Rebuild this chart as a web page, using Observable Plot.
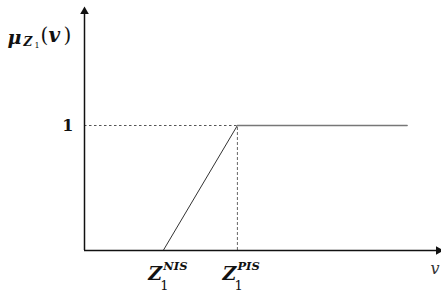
<!DOCTYPE html>
<html>
<head>
<meta charset="utf-8">
<script src="https://cdn.jsdelivr.net/npm/d3@7"></script>
<script src="https://cdn.jsdelivr.net/npm/@observablehq/plot@0.6"></script>
<style>
  html, body { margin: 0; padding: 0; background: #fff; }
  #chart { width: 441px; height: 297px; overflow: hidden; }
</style>
</head>
<body>
<div id="chart"></div>
<script>
// Membership function data (x positions in abstract units, membership values)
const pointNames = ["start", "PIS", "end"];
const xValues = [1.03, 2.0, 4.22];
const membership = [0, 1, 1];
const xMax = 4.67;
const yMax = 1.936;
const yTickValues = [1];
const yTickLabels = ["1"];

const curve = pointNames.map((n, i) => ({name: n, x: xValues[i], y: membership[i]}));
const pis = curve[1];

const serif = "'DejaVu Serif', 'Liberation Serif', serif";

const chart = Plot.plot({
  width: 441,
  height: 297,
  marginLeft: 84,
  marginRight: 0,
  marginTop: 8,
  marginBottom: 47,
  x: {domain: [0, xMax], axis: null},
  y: {domain: [0, yMax], axis: null},
  style: {background: "#fff", overflow: "visible"},
  marks: [
    // dotted guide to y = 1
    Plot.ruleY([pis], {y: "y", x1: 0, x2: "x", stroke: "#555", strokeWidth: 1, strokeDasharray: "2.5,2.5"}),
    // dashed vertical at PIS
    Plot.ruleX([pis], {x: "x", y1: 0, y2: "y", stroke: "#666", strokeWidth: 1, strokeDasharray: "3,2"}),
    // membership curve
    Plot.line(curve.slice(0, 2), {x: "x", y: "y", stroke: "#333", strokeWidth: 1}),
    Plot.line(curve.slice(1), {x: "x", y: "y", stroke: "#777", strokeWidth: 1.5}),
    // axes
    Plot.ruleX([0], {y1: 0, y2: yMax * 0.985, stroke: "#111", strokeWidth: 1.5}),
    Plot.ruleY([0], {x1: 0, x2: xMax, stroke: "#111", strokeWidth: 1.5}),
    Plot.dot([{x: 0, y: yMax}], {x: "x", y: "y", symbol: "triangle", r: 3.2, fill: "#111", stroke: null, dy: 3}),
    Plot.dot([{x: xMax, y: 0}], {x: "x", y: "y", symbol: "triangle", r: 3.2, fill: "#111", stroke: null, rotate: 90, dx: -3}),
    // y tick label
    Plot.text(yTickValues, {x: 0, y: d => d, text: (d, i) => yTickLabels[i], dx: -11, textAnchor: "end",
      fontFamily: serif, fontWeight: "bold", fontSize: 16, fill: "#111"}),
    // y axis title μ_{Z_1}(v)
    Plot.text([0], {x: 0, y: yMax, text: () => "μ", dx: -77, dy: 29, textAnchor: "start",
      fontFamily: serif, fontWeight: "bold", fontStyle: "italic", fontSize: 19, fill: "#111"}),
    Plot.text([0], {x: 0, y: yMax, text: () => "Z", dx: -61, dy: 34, textAnchor: "start",
      fontFamily: serif, fontWeight: "bold", fontStyle: "italic", fontSize: 12, fill: "#111"}),
    Plot.text([0], {x: 0, y: yMax, text: () => "1", dx: -50, dy: 37, textAnchor: "start",
      fontFamily: serif, fontSize: 8, fill: "#111"}),
    Plot.text([0], {x: 0, y: yMax, text: () => "(", dx: -44, dy: 27, textAnchor: "start",
      fontFamily: serif, fontSize: 20, fill: "#111"}),
    Plot.text([0], {x: 0, y: yMax, text: () => "v", dx: -36, dy: 27, textAnchor: "start",
      fontFamily: serif, fontWeight: "bold", fontStyle: "italic", fontSize: 20, fill: "#111"}),
    Plot.text([0], {x: 0, y: yMax, text: () => ")", dx: -21, dy: 27, textAnchor: "start",
      fontFamily: serif, fontSize: 20, fill: "#111"}),
    // x labels Z1^NIS, Z1^PIS
    Plot.text([curve[0]], {x: "x", y: 0, text: () => "Z", dx: -1, dy: 23, textAnchor: "end",
      fontFamily: serif, fontWeight: "bold", fontStyle: "italic", fontSize: 19, fill: "#111"}),
    Plot.text([curve[0]], {x: "x", y: 0, text: () => "1", dx: -3, dy: 35, textAnchor: "start",
      fontFamily: serif, fontSize: 13, fill: "#111"}),
    Plot.text([curve[0]], {x: "x", y: 0, text: () => "NIS", dx: 0, dy: 16, textAnchor: "start",
      fontFamily: serif, fontWeight: "bold", fontStyle: "italic", fontSize: 11.5, fill: "#111"}),
    Plot.text([pis], {x: "x", y: 0, text: () => "Z", dx: -1, dy: 23, textAnchor: "end",
      fontFamily: serif, fontWeight: "bold", fontStyle: "italic", fontSize: 19, fill: "#111"}),
    Plot.text([pis], {x: "x", y: 0, text: () => "1", dx: -3, dy: 35, textAnchor: "start",
      fontFamily: serif, fontSize: 13, fill: "#111"}),
    Plot.text([pis], {x: "x", y: 0, text: () => "PIS", dx: 0, dy: 16, textAnchor: "start",
      fontFamily: serif, fontWeight: "bold", fontStyle: "italic", fontSize: 11.5, fill: "#111"}),
    // x axis title v
    Plot.text([xMax], {x: d => d, y: 0, text: () => "v", dx: -11, dy: 18, textAnchor: "start",
      fontFamily: serif, fontStyle: "italic", fontSize: 16, fill: "#333"})
  ]
});
document.getElementById("chart").appendChild(chart);
</script>
</body>
</html>
